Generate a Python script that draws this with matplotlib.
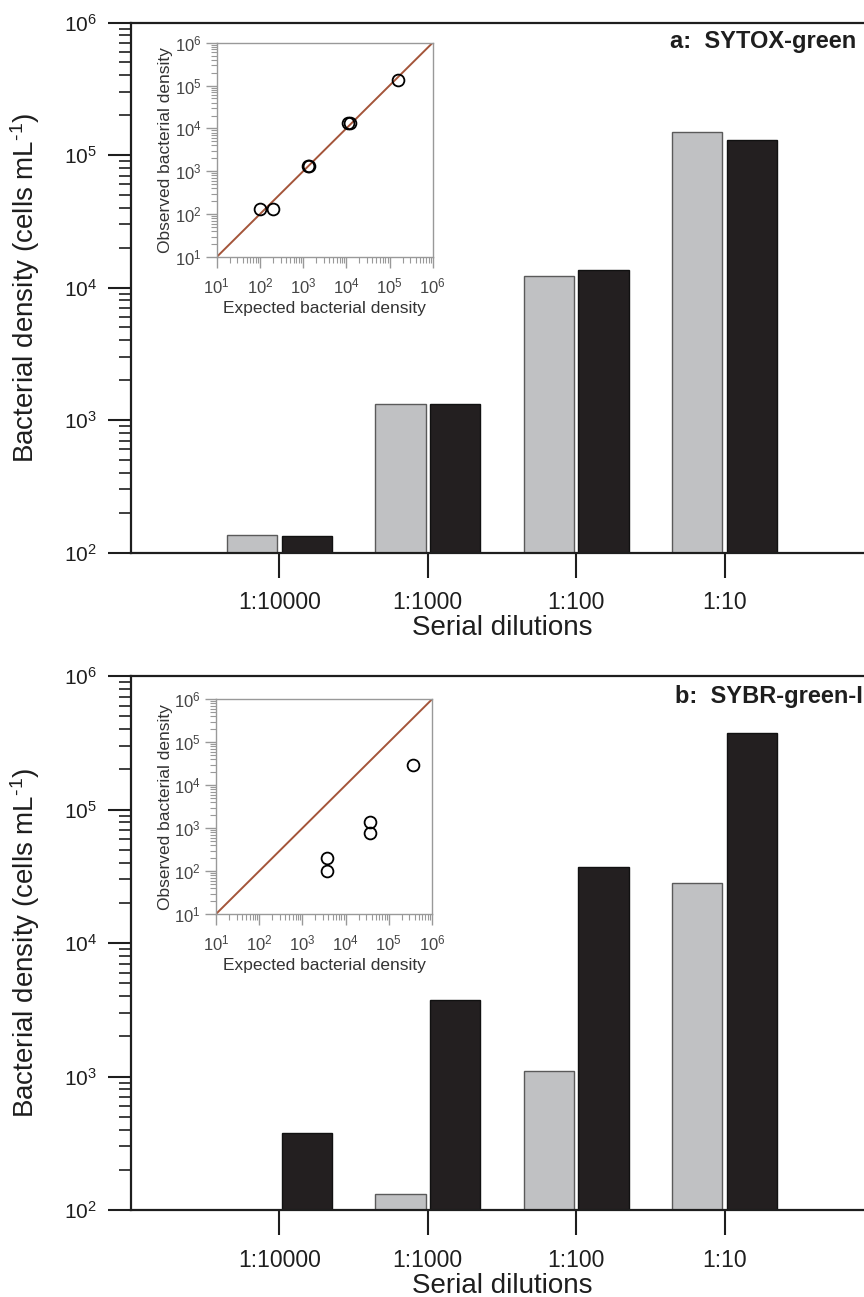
import matplotlib
matplotlib.use('Agg')
import matplotlib.pyplot as plt
import numpy as np
from matplotlib.ticker import LogLocator, NullFormatter, NullLocator

plt.rcParams['font.family'] = 'Liberation Sans'
plt.rcParams['mathtext.fontset'] = 'custom'
plt.rcParams['mathtext.rm'] = 'Liberation Sans'
plt.rcParams['mathtext.it'] = 'Liberation Sans:italic'
plt.rcParams['mathtext.bf'] = 'Liberation Sans:bold'
plt.rcParams['mathtext.default'] = 'regular'

dilutions = ['1:10000', '1:1000', '1:100', '1:10']

# a: SYTOX-green counts (cells/mL)
sytox_grey = [135, 1330, 12300, 148000]
sytox_black = [133, 1320, 13500, 130000]
sytox_expected = [100, 205, 1300, 1400, 11200, 12000, 155000]
sytox_observed = [131, 131, 1340, 1300, 13700, 13300, 135000]

# b: SYBR-green-I counts (cells/mL), no grey bar at 1:10000
sybr_grey = [np.nan, 132, 1100, 28300]
sybr_black = [378, 3740, 37100, 374000]
sybr_expected = [3780, 3780, 36700, 36700, 355000]
sybr_observed = [198, 100, 1410, 783, 29500]

GREY = '#c0c1c3'
BLACK = '#231f20'
INK = '#1e1e1e'

W, H = 864, 1297
fig = plt.figure(figsize=(W / 100, H / 100), dpi=100)


def px_rect(left, top, right, bottom):
    # pixel box -> figure fraction [x0, y0, w, h]
    return [left / W, 1 - bottom / H, (right - left) / W, (bottom - top) / H]


def main_panel(rect, grey, black, tag, tag_xy):
    ax = fig.add_axes(rect)
    x = np.arange(len(dilutions))
    ax.bar(x - 0.185, grey, 0.34, color=GREY, edgecolor='#5a5a5a', linewidth=1)
    ax.bar(x + 0.185, black, 0.34, color=BLACK, edgecolor='#111111', linewidth=1)
    ax.set_yscale('log')
    ax.set_ylim(1e2, 1e6)
    ax.set_xlim(-1, 4)

    ax.set_xticks(x, dilutions)
    ax.xaxis.set_minor_locator(NullLocator())
    ax.yaxis.set_major_locator(LogLocator(base=10, numticks=10))
    ax.yaxis.set_minor_locator(LogLocator(base=10, subs=np.arange(2, 10), numticks=10))
    ax.yaxis.set_minor_formatter(NullFormatter())
    ax.tick_params(axis='x', which='major', direction='out', length=18, width=1.5,
                   pad=10, labelsize=16.5, colors=INK)
    ax.tick_params(axis='y', which='major', direction='out', length=16.5, width=1.5,
                   pad=8, labelsize=15, colors=INK)
    ax.tick_params(axis='y', which='minor', direction='out', length=8.5, width=1.2,
                   colors=INK)

    ax.spines['right'].set_visible(False)
    for s in ('left', 'top', 'bottom'):
        ax.spines[s].set_linewidth(1.6)
        ax.spines[s].set_color(INK)

    ax.set_ylabel('Bacterial density (cells mL$^{\u2010 1}$)', fontsize=20, color=INK)
    ax.yaxis.set_label_coords(-0.12, 0.5)
    ax.set_xlabel('Serial dilutions', fontsize=20, color=INK)
    ax.xaxis.set_label_coords(0.5, -0.118)

    ax.text(tag_xy[0], tag_xy[1], tag, transform=ax.transAxes, ha='right', va='center',
            fontsize=17, fontweight='bold', color=INK)
    return ax


def inset(rect, expected, observed):
    ins = fig.add_axes(rect)
    ins.plot([10, 1e6], [10, 1e6], color='#a4553a', lw=1.4)
    ins.plot(expected, observed, 'o', mfc='none', mec='black', ms=8.5, mew=1.3)
    ins.set_xscale('log')
    ins.set_yscale('log')
    ins.set_xlim(10, 1e6)
    ins.set_ylim(10, 1e6)
    for ax_ in (ins.xaxis, ins.yaxis):
        ax_.set_major_locator(LogLocator(base=10, numticks=10))
        ax_.set_minor_locator(LogLocator(base=10, subs=np.arange(2, 10), numticks=10))
        ax_.set_minor_formatter(NullFormatter())
    ins.tick_params(which='both', direction='out', color='#999999', labelcolor='#444444',
                    labelsize=12)
    ins.tick_params(which='major', length=8, width=1)
    ins.tick_params(which='minor', length=4, width=0.8)
    ins.tick_params(axis='x', pad=6)
    ins.tick_params(axis='y', pad=3)
    for s in ins.spines.values():
        s.set_color('#999999')
        s.set_linewidth(1)
    ins.set_xlabel('Expected bacterial density', fontsize=12.5, color='#333333', labelpad=3)
    ins.set_ylabel('Observed bacterial density', fontsize=12.5, color='#333333', labelpad=1)
    return ins


main_panel(px_rect(131, 22.5, 873, 552.5), sytox_grey, sytox_black,
           'a:  SYTOX-green', (0.978, 0.965))
inset(px_rect(216.7, 42.7, 432.7, 257), sytox_expected, sytox_observed)

main_panel(px_rect(131, 676, 873, 1210), sybr_grey, sybr_black,
           'b:  SYBR-green-I', (0.9865, 0.961))
inset(px_rect(216, 699.3, 432, 914), sybr_expected, sybr_observed)

fig.savefig('out.png', dpi=100)
